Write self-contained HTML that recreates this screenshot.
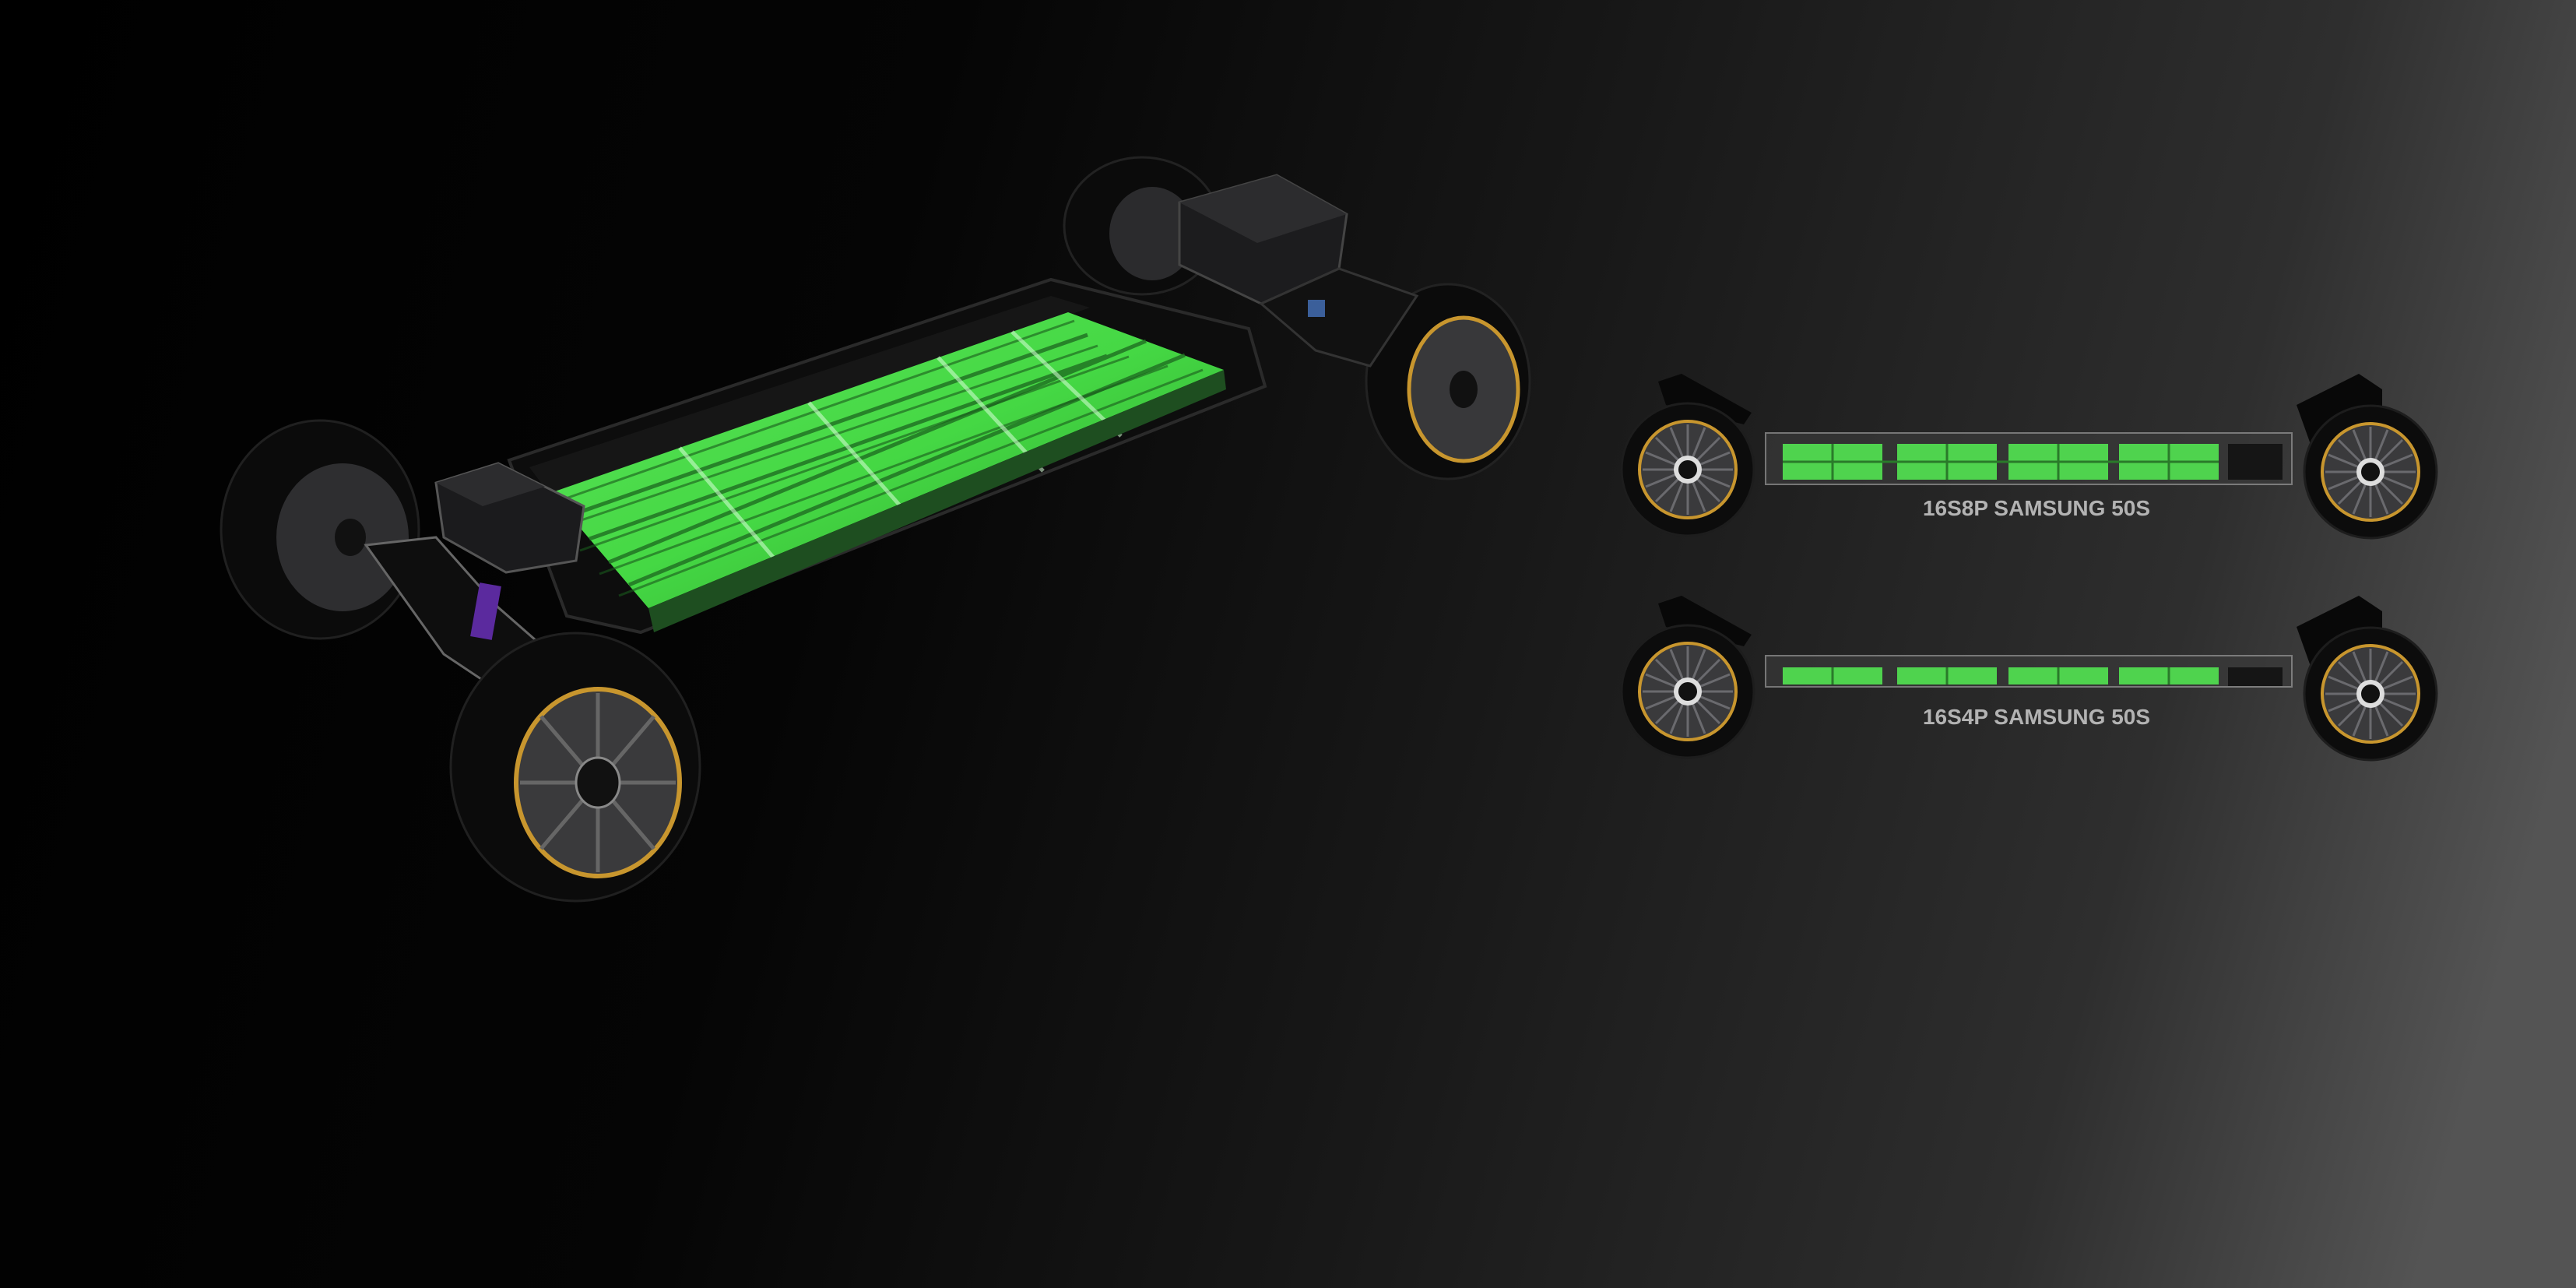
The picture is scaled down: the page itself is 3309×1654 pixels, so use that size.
<!DOCTYPE html>
<html><head><meta charset="utf-8"><style>
html,body{margin:0;padding:0;width:3309px;height:1654px;overflow:hidden;background:#000}
svg{display:block}
</style></head><body>
<svg width="3309" height="1654" viewBox="0 0 3309 1654" xmlns="http://www.w3.org/2000/svg">
<defs>
<linearGradient id="bg" gradientUnits="userSpaceOnUse" x1="0" y1="0" x2="3309" y2="900">
<stop offset="0" stop-color="#000"/><stop offset="0.35" stop-color="#050505"/>
<stop offset="0.6" stop-color="#181818"/><stop offset="0.85" stop-color="#2e2e2e"/><stop offset="1" stop-color="#545454"/>
</linearGradient>
<linearGradient id="grn" x1="0" y1="0" x2="1" y2="1">
<stop offset="0" stop-color="#5be35a"/><stop offset="0.5" stop-color="#45d844"/><stop offset="1" stop-color="#2a9e2c"/>
</linearGradient>
<g id="wh">
<circle r="85" fill="#0c0c0c" stroke="#1d1d1d" stroke-width="3"/>
<circle r="62" fill="#3a3a3c"/>
<circle r="62" fill="none" stroke="#c8962e" stroke-width="4"/>
<g stroke="#6a6a6e" stroke-width="3">
<line x1="0" y1="-58" x2="0" y2="58"/><line x1="-58" y1="0" x2="58" y2="0"/>
<line x1="-41" y1="-41" x2="41" y2="41"/><line x1="41" y1="-41" x2="-41" y2="41"/>
<line x1="-22" y1="-54" x2="22" y2="54"/><line x1="22" y1="-54" x2="-22" y2="54"/>
<line x1="-54" y1="-22" x2="54" y2="22"/><line x1="54" y1="-22" x2="-54" y2="22"/>
</g>
<circle r="18" fill="#ddd"/><circle r="12" fill="#111"/>
</g>
</defs>
<rect width="3309" height="1654" fill="url(#bg)"/>

<!-- MAIN BOARD -->
<ellipse cx="1467" cy="290" rx="100" ry="88" fill="#0b0b0b" stroke="#222" stroke-width="3"/>
<ellipse cx="1480" cy="300" rx="55" ry="60" fill="#2b2b2d"/>
<polygon points="654,591 1350,359 1604,422 1625,496 823,812 728,791" fill="#0d0d0d" stroke="#2a2a2a" stroke-width="4"/>
<polygon points="680,600 1350,380 1400,395 710,640" fill="#161616"/>
<polygon points="707,633 1372,401 1572,475 833,781" fill="url(#grn)"/>
<g stroke="#1f6e22" stroke-width="5" opacity="0.8">
<line x1="732" y1="662" x2="1397" y2="430"/><line x1="757" y1="692" x2="1422" y2="457"/>
<line x1="782" y1="722" x2="1472" y2="438"/><line x1="808" y1="751" x2="1522" y2="456"/>
</g>
<g stroke="#1a5a1c" stroke-width="3" opacity="0.6">
<line x1="707" y1="647" x2="1380" y2="412"/><line x1="720" y1="677" x2="1410" y2="444"/>
<line x1="745" y1="707" x2="1450" y2="458"/><line x1="770" y1="737" x2="1500" y2="470"/>
<line x1="795" y1="765" x2="1545" y2="475"/>
</g>
<g stroke="#d8ffd8" stroke-width="5" opacity="0.55">
<line x1="873" y1="575" x2="1003" y2="727"/><line x1="1039" y1="517" x2="1170" y2="665"/>
<line x1="1205" y1="459" x2="1340" y2="605"/><line x1="1300" y1="426" x2="1440" y2="560"/>
</g>
<polygon points="833,781 1572,475 1575,500 840,812" fill="#1e4e20"/>
<ellipse cx="1860" cy="490" rx="105" ry="125" fill="#0b0b0b" stroke="#222" stroke-width="3"/>
<ellipse cx="1880" cy="500" rx="70" ry="92" fill="#38383a" stroke="#c8962e" stroke-width="5"/>
<ellipse cx="1880" cy="500" rx="18" ry="24" fill="#111"/>
<polygon points="1515,260 1640,225 1730,275 1720,345 1620,390 1515,340" fill="#1c1c1e" stroke="#444" stroke-width="3"/>
<polygon points="1515,260 1640,225 1730,275 1615,312" fill="#2c2c2e"/>
<polygon points="1620,390 1720,345 1820,380 1760,470 1690,450" fill="#111" stroke="#333" stroke-width="3"/>
<rect x="1680" y="385" width="22" height="22" fill="#3b5f9a"/>
<ellipse cx="411" cy="680" rx="127" ry="140" fill="#0b0b0b" stroke="#202020" stroke-width="3"/>
<ellipse cx="440" cy="690" rx="85" ry="95" fill="#2e2e30"/>
<ellipse cx="450" cy="690" rx="20" ry="24" fill="#111"/>
<polygon points="560,620 640,595 750,650 740,720 650,735 570,690" fill="#1b1b1d" stroke="#555" stroke-width="3"/>
<polygon points="560,620 640,595 700,625 620,650" fill="#2c2c2e"/>
<polygon points="470,700 560,690 640,780 720,850 660,900 570,840" fill="#0e0e0e" stroke="#666" stroke-width="3"/>
<rect x="610" y="750" width="28" height="70" fill="#5b2a9e" transform="rotate(10 624 785)"/>
<ellipse cx="739" cy="985" rx="160" ry="172" fill="#0b0b0b" stroke="#202020" stroke-width="3"/>
<ellipse cx="768" cy="1005" rx="105" ry="120" fill="#3a3a3c" stroke="#c8962e" stroke-width="6"/>
<g stroke="#666" stroke-width="5">
<line x1="768" y1="890" x2="768" y2="1120"/><line x1="668" y1="1005" x2="868" y2="1005"/>
<line x1="695" y1="920" x2="840" y2="1090"/><line x1="840" y1="920" x2="695" y2="1090"/>
</g>
<ellipse cx="768" cy="1005" rx="28" ry="32" fill="#111" stroke="#888" stroke-width="3"/>

<!-- SIDE VIEW 1 -->
<g>
<polygon points="2130,490 2160,480 2250,530 2240,545 2140,520" fill="#080808"/>
<polygon points="2950,520 3030,480 3060,500 3060,540 2975,590" fill="#080808"/>
<rect x="2268" y="556" width="676" height="66" fill="#3a3a3a" opacity="0.7" stroke="#9a9a9a" stroke-width="2"/>
<rect x="2290" y="570" width="128" height="46" fill="#4fd34e"/>
<rect x="2437" y="570" width="128" height="46" fill="#4fd34e"/>
<rect x="2580" y="570" width="128" height="46" fill="#4fd34e"/>
<rect x="2722" y="570" width="128" height="46" fill="#4fd34e"/>
<g stroke="#2a7a2a" stroke-width="3"><line x1="2290" y1="593" x2="2850" y2="593"/><line x1="2354" y1="570" x2="2354" y2="616"/><line x1="2501" y1="570" x2="2501" y2="616"/><line x1="2644" y1="570" x2="2644" y2="616"/><line x1="2786" y1="570" x2="2786" y2="616"/></g>
<rect x="2862" y="570" width="70" height="46" fill="#151515"/>
<use href="#wh" x="2168" y="603"/>
<use href="#wh" x="3045" y="606"/>
<text x="2616" y="662" text-anchor="middle" font-family="Liberation Sans, sans-serif" font-weight="bold" font-size="28" fill="#b3b3b3">16S8P SAMSUNG 50S</text>
</g>
<!-- SIDE VIEW 2 -->
<g>
<polygon points="2130,775 2160,765 2250,815 2240,830 2140,805" fill="#080808"/>
<polygon points="2950,805 3030,765 3060,785 3060,825 2975,875" fill="#080808"/>
<rect x="2268" y="842" width="676" height="40" fill="#3a3a3a" opacity="0.7" stroke="#9a9a9a" stroke-width="2"/>
<rect x="2290" y="857" width="128" height="22" fill="#4fd34e"/>
<rect x="2437" y="857" width="128" height="22" fill="#4fd34e"/>
<rect x="2580" y="857" width="128" height="22" fill="#4fd34e"/>
<rect x="2722" y="857" width="128" height="22" fill="#4fd34e"/>
<g stroke="#2a7a2a" stroke-width="3"><line x1="2354" y1="857" x2="2354" y2="879"/><line x1="2501" y1="857" x2="2501" y2="879"/><line x1="2644" y1="857" x2="2644" y2="879"/><line x1="2786" y1="857" x2="2786" y2="879"/></g>
<rect x="2862" y="857" width="70" height="24" fill="#151515"/>
<use href="#wh" x="2168" y="888"/>
<use href="#wh" x="3045" y="891"/>
<text x="2616" y="930" text-anchor="middle" font-family="Liberation Sans, sans-serif" font-weight="bold" font-size="28" fill="#b3b3b3">16S4P SAMSUNG 50S</text>
</g>
</svg>
</body></html>
